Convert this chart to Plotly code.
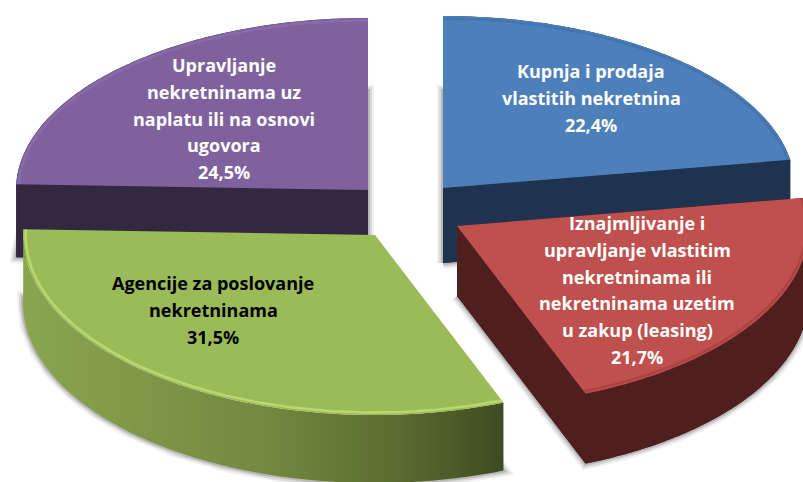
import numpy as np
import plotly.graph_objects as go

# --- data -------------------------------------------------------------
categories = [
    ["Kupnja i prodaja", "vlastitih nekretnina"],
    ["Iznajmljivanje i", "upravljanje vlastitim", "nekretninama ili", "nekretninama uzetim", "u zakup (leasing)"],
    ["Agencije za poslovanje", "nekretninama"],
    ["Upravljanje", "nekretninama uz", "naplatu ili na osnovi", "ugovora"],
]
values = [22.4, 21.7, 31.5, 24.5]

# --- style / layout of each slice -------------------------------------
top_colors = ["#4d7fba", "#bf504d", "#9bbb59", "#7f619d"]
side_colors = ["#1f3350", "#4f1f1f", "#7f9a48", "#33283f"]
rim_colors = ["rgba(40,80,130,0.22)", "rgba(110,40,38,0.28)", "rgba(205,235,125,0.6)", "rgba(150,120,190,0.45)"]
text_colors = ["white", "white", "black", "white"]
apex = [(443, 188), (457, 226), (375, 235), (368, 190)]
depth = [75, 70, 68, 73]
label_x = [591, 637, 213, 224]
label_y = [71, 223, 283, 65]
line_gap = [27, 26.8, 27, 26.8]
RX, RY_UP, RY_DOWN = 352, 172, 180
FONT = "Open Sans"
FONT_SIZE = 18

total = sum(values)
cum = np.cumsum([0] + values) / total * 2 * np.pi


def arc(i, inset=0.0):
    t = np.linspace(cum[i], cum[i + 1], 140)
    c = np.cos(t)
    ry = np.where(c > 0, RY_UP, RY_DOWN)
    return apex[i][0] + (RX - inset) * np.sin(t), apex[i][1] - (ry - inset) * c


fig = go.Figure()


def poly(x, y, color=None, gradient=None):
    kw = dict(x=list(x), y=list(y), mode="none", fill="toself", hoverinfo="skip")
    if gradient:
        kw["fillgradient"] = dict(type="horizontal", colorscale=gradient)
    else:
        kw["fillcolor"] = color
    fig.add_trace(go.Scatter(**kw))


# blurred shadow of every slice, below everything else
for i in [3, 0, 2, 1]:
    ax, ay = apex[i]
    xs, ys = arc(i)
    sx = np.r_[ax, xs, ax]
    sy = np.r_[ay, ys, ay] + depth[i]
    for width, alpha in [(12, 0.08), (8, 0.14), (4, 0.22)]:
        fig.add_trace(go.Scatter(x=list(sx), y=list(sy), mode="lines", hoverinfo="skip",
                                 line=dict(width=width, color=f"rgba(70,70,70,{alpha})")))

gradient_green = [[0, "#8aa54f"], [0.5, "#72893f"], [0.78, "#5a6c30"], [1, "#3e4b21"]]

for i in [3, 0, 2, 1]:
    ax, ay = apex[i]
    xs, ys = arc(i)
    d = depth[i]
    if i == 2:
        # the green slice only shows its curved outer wall
        poly(np.r_[xs, xs[::-1]], np.r_[ys, ys[::-1] + d], gradient=gradient_green)
    else:
        poly(np.r_[ax, xs, ax], np.r_[ay, ys, ay] + d, side_colors[i])
        poly(np.r_[xs, xs[::-1]], np.r_[ys, ys[::-1] + d], side_colors[i])
        poly([ax, xs[0], xs[0], ax], [ay, ys[0], ys[0] + d, ay + d], side_colors[i])
        poly([ax, xs[-1], xs[-1], ax], [ay, ys[-1], ys[-1] + d, ay + d], side_colors[i])
    # top face
    poly(np.r_[ax, xs, ax], np.r_[ay, ys, ay], top_colors[i])
    # bevel along the outer edge
    rx_, ry_ = arc(i, inset=2.5)
    fig.add_trace(go.Scatter(x=list(rx_), y=list(ry_), mode="lines", hoverinfo="skip",
                             line=dict(width=2.5, color=rim_colors[i])))

# labels, one line at a time so the leading matches
for i, lines in enumerate(categories):
    rows = lines + [f"{values[i]:.1f}%".replace(".", ",")]
    for k, row in enumerate(rows):
        fig.add_annotation(x=label_x[i], y=label_y[i] + k * line_gap[i], text=f"<b>{row}</b>",
                           showarrow=False, xanchor="center", yanchor="middle",
                           font=dict(family=FONT, size=FONT_SIZE, color=text_colors[i]))

fig.update_layout(
    width=803, height=482, margin=dict(l=0, r=0, t=0, b=0), showlegend=False,
    paper_bgcolor="white", plot_bgcolor="white",
    xaxis=dict(range=[0, 803], visible=False, fixedrange=True),
    yaxis=dict(range=[482, 0], visible=False, fixedrange=True),
)
fig.write_html("out.html", config={"displayModeBar": False},
               post_script="document.body.style.margin='0';document.body.style.overflow='hidden';")
